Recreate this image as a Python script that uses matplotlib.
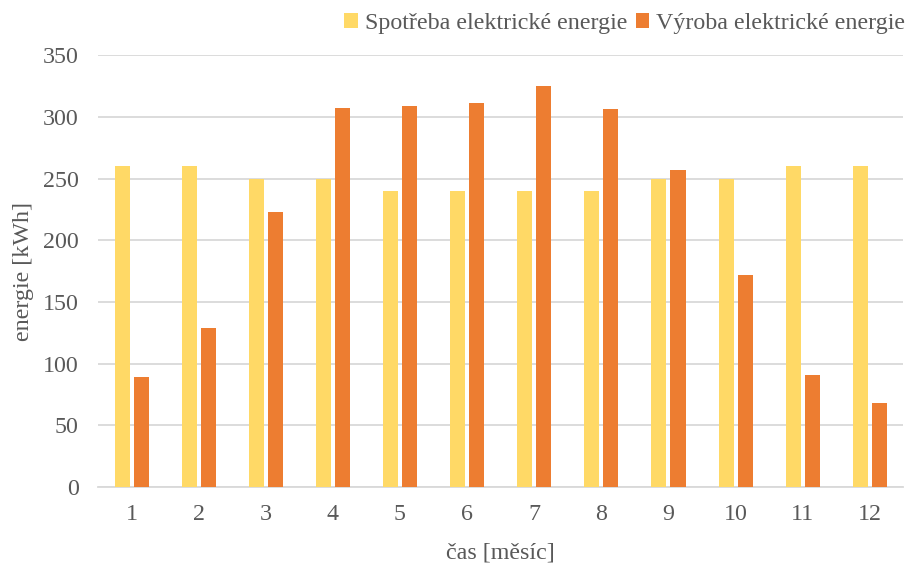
import matplotlib
matplotlib.use("Agg")
import matplotlib.pyplot as plt
import numpy as np

plt.rcParams['font.family'] = ['Liberation Serif', 'DejaVu Serif']

months = ['1', '2', '3', '4', '5', '6', '7', '8', '9', '10', '11', '12']
spotreba = [260, 260, 250, 250, 240, 240, 240, 240, 250, 250, 260, 260]
vyroba = [89, 129, 223, 307, 309, 311, 325, 306, 257, 172, 91, 68]
yticks = [0, 50, 100, 150, 200, 250, 300, 350]

FS = 17.3
fig = plt.figure(figsize=(9.1, 5.63), dpi=100)
ax = fig.add_axes([0.1077, 0.135, 0.885, 0.767])

x = np.arange(len(months))
w = 0.224
gap = 0.06
ax.bar(x - (w + gap) / 2, spotreba, width=w, color='#FFD966', label='Spotřeba elektrické energie', zorder=3)
ax.bar(x + (w + gap) / 2, vyroba, width=w, color='#ED7D31', label='Výroba elektrické energie', zorder=3)

ax.set_xlim(-0.5, len(months) - 0.5)
ax.set_ylim(0, 350)
ax.set_yticks(yticks)
ax.set_xticks(x)
ax.set_xticklabels(months)
ax.yaxis.grid(True, color='#D9D9D9', linewidth=1.3, zorder=0)
ax.tick_params(axis='both', length=0, labelsize=FS, colors='#595959')
ax.tick_params(axis='x', pad=12)
ax.tick_params(axis='y', pad=14)
for s in ['top', 'right', 'left']:
    ax.spines[s].set_visible(False)
ax.spines['bottom'].set_color('#D9D9D9')
ax.spines['bottom'].set_linewidth(1.3)

ax.set_xlabel('čas [měsíc]', fontsize=FS, color='#595959', labelpad=13)
ax.set_ylabel('energie [kWh]', fontsize=FS, color='#595959', labelpad=6)

leg = fig.legend(loc='upper right', bbox_to_anchor=(1.009, 1.0), ncol=2, frameon=False,
                 fontsize=FS, handlelength=0.55, handleheight=0.55, handletextpad=0.3,
                 columnspacing=0.35, borderaxespad=0.15)
for t in leg.get_texts():
    t.set_color('#595959')

fig.savefig('out.png', dpi=100)
